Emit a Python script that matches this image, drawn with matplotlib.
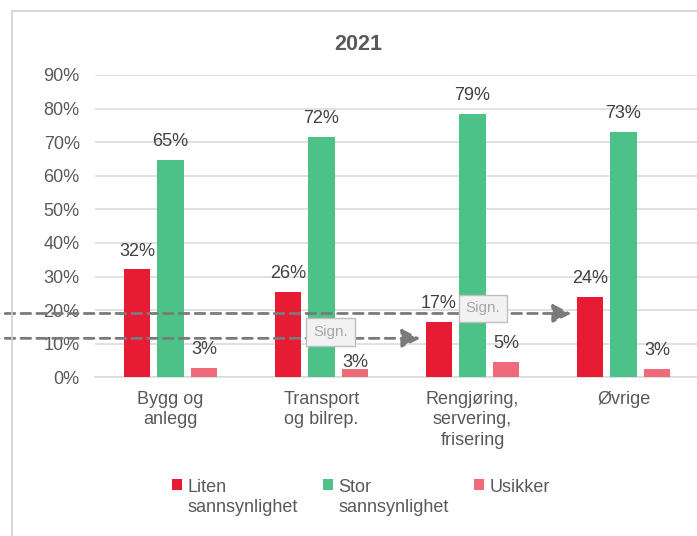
import matplotlib
matplotlib.use("Agg")
import matplotlib.pyplot as plt
import matplotlib.patches as mpatches
import numpy as np

plt.rcParams["font.family"] = ["Liberation Sans", "DejaVu Sans"]

# data
kategorier = ["Bygg og\nanlegg", "Transport\nog bilrep.", "Rengjøring,\nservering,\nfrisering", "Øvrige"]
serier = ["Liten\nsannsynlighet", "Stor\nsannsynlighet", "Usikker"]
liten = [32.1, 25.4, 16.6, 23.9]
stor = [64.7, 71.6, 78.4, 73.1]
usikker = [2.7, 2.5, 4.6, 2.5]
liten_tekst = ["32%", "26%", "17%", "24%"]
stor_tekst = ["65%", "72%", "79%", "73%"]
usikker_tekst = ["3%", "3%", "5%", "3%"]
y_ticks = [0, 10, 20, 30, 40, 50, 60, 70, 80, 90]

# signifikans-piler (nivaa i %, sluttpunkt i kategoriindeks)
sign_nivaa = [19.0, 11.6]
sign_slutt = [2.655, 1.655]

farger = ["#E71C34", "#4CC288", "#EF6B79"]
tekst_farge = "#595959"

fig = plt.figure(figsize=(6.97, 5.36), dpi=100)
ax = fig.add_axes([95 / 697, 1 - 377.3 / 536, 604 / 697, (377.3 - 75) / 536])

x = np.arange(len(kategorier))
bredde = 0.1755
avstand = 0.222
verdier = [liten, stor, usikker]
tekster = [liten_tekst, stor_tekst, usikker_tekst]

for i, (vals, labs) in enumerate(zip(verdier, tekster)):
    pos = x + (i - 1) * avstand
    bars = ax.bar(pos, vals, width=bredde, color=farger[i], label=serier[i], zorder=3)
    for j, (b, lab) in enumerate(zip(bars, labs)):
        # etiketten under "Sign."-boksen ble flyttet ned i originalen
        dy = 1.5 if (i == 2 and j == 1) else 10
        ax.annotate(lab, (b.get_x() + b.get_width() / 2, b.get_height()),
                    xytext=(0, dy), textcoords="offset points",
                    ha="center", va="baseline", fontsize=13, color="#404040", zorder=6)

ax.set_xlim(-0.5, 3.5)
ax.set_ylim(0, 90)
ax.set_yticks(y_ticks)
ax.set_yticklabels([f"{v}%" for v in y_ticks])
ax.set_xticks(x)
ax.set_xticklabels(kategorier, linespacing=1.25)
ax.tick_params(axis="y", length=0, pad=11, labelsize=13, labelcolor=tekst_farge)
ax.tick_params(axis="x", length=0, pad=10, labelsize=13, labelcolor=tekst_farge)
ax.grid(axis="y", color="#d9d9d9", linewidth=1.1, zorder=0)
for s in ["top", "right", "left"]:
    ax.spines[s].set_visible(False)
ax.spines["bottom"].set_color("#d9d9d9")
ax.spines["bottom"].set_linewidth(1.1)

# stiplede piler med "Sign."
for niva, slutt in zip(sign_nivaa, sign_slutt):
    ax.annotate("", xy=(slutt, niva), xytext=(-1.2, niva),
                arrowprops=dict(arrowstyle="-|>,head_length=0.8,head_width=0.4",
                                color="#7a7a7a", lw=2, linestyle=(0, (3.5, 2.2)),
                                mutation_scale=14, shrinkA=0, shrinkB=0),
                annotation_clip=False, zorder=4)
boks = dict(boxstyle="square,pad=0.45", facecolor="#f2f2f2", edgecolor="#bfbfbf", linewidth=1)
ax.text(2.07, 20.5, "Sign.", fontsize=11, color="#a6a6a6", ha="center", va="center",
        zorder=5, bbox=boks)
ax.text(1.06, 13.5, "Sign.", fontsize=11, color="#a6a6a6", ha="center", va="center",
        zorder=5, bbox=boks)

fig.text(358 / 697, 1 - 45 / 536, "2021", ha="center", va="center",
         fontsize=15.5, fontweight="bold", color=tekst_farge)

leg = fig.legend(loc="upper left", bbox_to_anchor=(172 / 697, 1 - 479 / 536), ncol=3,
                 frameon=False, fontsize=13, labelcolor=tekst_farge,
                 handlelength=0.55, handleheight=0.55, handletextpad=0.3,
                 columnspacing=1.4, borderpad=0, borderaxespad=0)
# merkene og kolonnene skal flukte med forste tekstlinje
leg._legend_handle_box.align = "top"
for kol in leg._legend_handle_box.get_children():
    for item in kol.get_children():
        item.align = "top"

# ramme rundt diagrammet
fig.add_artist(mpatches.Rectangle((11.5 / 697, -0.1), 1.2, 0.1 + (536 - 11) / 536,
                                  transform=fig.transFigure, fill=False,
                                  edgecolor="#d0d0d0", linewidth=1.2))

fig.savefig("out.png", dpi=100)
